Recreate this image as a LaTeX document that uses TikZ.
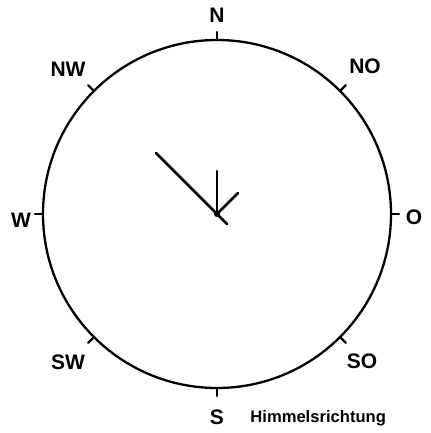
\documentclass[tikz,border=0pt]{standalone}
\usepackage{fontspec}
\setmainfont{Liberation Sans}
\tikzset{
  every picture/.style={line join=round, line cap=round},
  dirlabel/.style={font=\fontsize{10.5}{10.5}\selectfont\bfseries, inner sep=0pt},
  rim/.style={line width=1.15pt},
  hand/.style={line width=1.35pt},
}

\begin{document}
\begin{tikzpicture}[x=0.5pt,y=0.5pt]
\useasboundingbox (-217,-219) rectangle (213,214);
\draw[rim](0,0) circle (174);
\foreach \a in {0,45,...,315}
  \draw[rim](\a:174)--(\a:182);
\foreach \p/\t in {(0,199)/N, (148,148)/NO, (197,-3)/O, (145,-147)/SO,
                   (0,-203)/S, (-149,-148)/SW, (-196,-6)/W, (-149,145)/NW}
  \node[dirlabel](\t) at \p {\t};
\node[dirlabel, font=\fontsize{8.3}{8.3}\selectfont\bfseries, anchor=base west](titel) at (33,-208) {Himmelsrichtung};
\coordinate (mitte) at (0,0);
\draw[hand](mitte)--(0,43);
\draw[hand](mitte)--(21,21);
\draw[hand](-61,61)--(10,-10);
\fill(mitte) circle (3);
\end{tikzpicture}
\end{document}
